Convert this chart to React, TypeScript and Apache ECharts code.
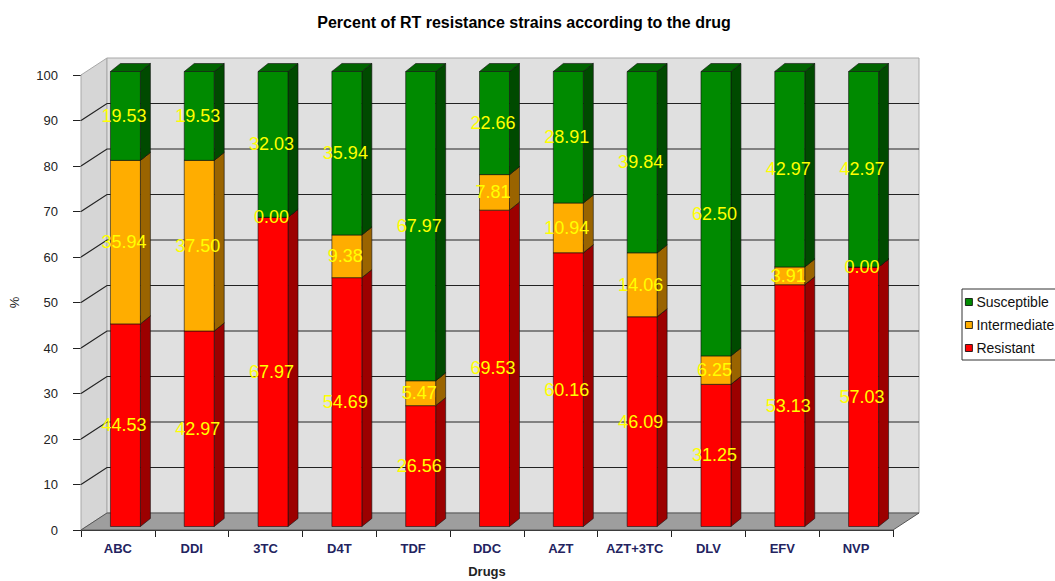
import React, { useEffect, useRef } from "react";
import * as echarts from "echarts";

const categories = ["ABC", "DDI", "3TC", "D4T", "TDF", "DDC", "AZT", "AZT+3TC", "DLV", "EFV", "NVP"];
const resistant = [44.53, 42.97, 67.97, 54.69, 26.56, 69.53, 60.16, 46.09, 31.25, 53.13, 57.03];
const intermediate = [35.94, 37.5, 0.0, 9.38, 5.47, 7.81, 10.94, 14.06, 6.25, 3.91, 0.0];
const susceptible = [19.53, 19.53, 32.03, 35.94, 67.97, 22.66, 28.91, 39.84, 62.5, 42.97, 42.97];
const yTicks = [0, 10, 20, 30, 40, 50, 60, 70, 80, 90, 100];

const DX = 26;
const DY = -17;
const F1X = 7.5;
const F1Y = -3.5;
const SX = 10;
const SY = -8;
const BAR_FRAC = 0.406;

type Seg = { name: string; values: number[]; front: string; side: string; top: string };

const segs: Seg[] = [
  { name: "Resistant", values: resistant, front: "#ff0000", side: "#9c0000", top: "#c80000" },
  { name: "Intermediate", values: intermediate, front: "#ffad00", side: "#9a6400", top: "#d08a00" },
  { name: "Susceptible", values: susceptible, front: "#008a00", side: "#004a00", top: "#006400" },
];

function bases(idx: number): number[] {
  return categories.map((_, i) => {
    let b = 0;
    for (let k = 0; k < idx; k++) b += segs[k].values[i];
    return b;
  });
}

export default function App() {
  const ref = useRef<HTMLDivElement>(null);
  useEffect(() => {
    if (!ref.current) return;
    const chart = echarts.init(ref.current, undefined, { renderer: "svg" });

    const wallSeries: any = {
      type: "custom",
      name: "walls",
      z: 1,
      silent: true,
      data: [[0]],
      renderItem: (params: any, api: any) => {
        const band = api.size([1, 0])[0];
        const c0 = api.coord([0, 0]);
        const cN = api.coord([categories.length - 1, 0]);
        const left = c0[0] - band / 2;
        const right = cN[0] + band / 2;
        const yb = c0[1];
        const yt = api.coord([0, 100])[1];
        const children: any[] = [
          {
            type: "polygon",
            shape: { points: [[left, yb], [left, yt], [left + DX, yt + DY], [left + DX, yb + DY]] },
            style: { fill: "#d6d6d6", stroke: "#a8a8a8", lineWidth: 1 },
          },
          {
            type: "rect",
            shape: { x: left + DX, y: yt + DY, width: right - left, height: yb - yt },
            style: { fill: "#e0e0e0", stroke: "#a8a8a8", lineWidth: 1 },
          },
          {
            type: "polygon",
            shape: { points: [[left, yb], [right, yb], [right + DX, yb + DY], [left + DX, yb + DY]] },
            style: { fill: "#9e9e9e", stroke: "#555", lineWidth: 1 },
          },
        ];
        yTicks.forEach((t) => {
          if (t === 0 || t === 100) return;
          const y = api.coord([0, t])[1];
          children.push({
            type: "polyline",
            shape: { points: [[left, y], [left + DX, y + DY], [right + DX, y + DY]] },
            style: { stroke: "#222", lineWidth: 1.2, fill: null },
          });
        });
        return { type: "group", children };
      },
    };

    const barSeries: any[] = segs.map((s, si) => {
      const b = bases(si);
      return {
        type: "custom",
        name: s.name,
        z: 2,
        itemStyle: { color: s.front, borderColor: "#000", borderWidth: 1 },
        data: categories.map((_, i) => [i, b[i], s.values[i]]),
        renderItem: (params: any, api: any) => {
          const x = api.value(0);
          const base = api.value(1);
          const v = api.value(2);
          const band = api.size([1, 0])[0];
          const w = band * BAR_FRAC;
          const p0 = api.coord([x, base]);
          const p1 = api.coord([x, base + v]);
          const fx = p0[0] - w / 2 + F1X;
          const y0 = p0[1] + F1Y;
          const y1 = p1[1] + F1Y;
          const ls = { stroke: "#111", lineWidth: 0.6 };
          return {
            type: "group",
            children: [
              {
                type: "polygon",
                shape: { points: [[fx + w, y1], [fx + w + SX, y1 + SY], [fx + w + SX, y0 + SY], [fx + w, y0]] },
                style: { fill: s.side, ...ls },
              },
              {
                type: "polygon",
                shape: { points: [[fx, y1], [fx + SX, y1 + SY], [fx + w + SX, y1 + SY], [fx + w, y1]] },
                style: { fill: s.top, ...ls },
              },
              {
                type: "rect",
                shape: { x: fx, y: y1, width: w, height: y0 - y1 },
                style: { fill: s.front, ...ls },
              },
            ],
          };
        },
      };
    });

    const labelData: number[][] = [];
    segs.forEach((s, si) => {
      const b = bases(si);
      categories.forEach((_, i) => labelData.push([i, b[i] + s.values[i] / 2, s.values[i]]));
    });

    const labelSeries: any = {
      type: "custom",
      name: "labels",
      z: 5,
      silent: true,
      data: labelData,
      renderItem: (params: any, api: any) => {
        const p = api.coord([api.value(0), api.value(1)]);
        return {
          type: "text",
          x: p[0] + F1X - 1.5,
          y: p[1] + F1Y,
          style: {
            text: Number(api.value(2)).toFixed(2),
            fill: "#ffff00",
            font: "18px Arial",
            align: "center",
            verticalAlign: "middle",
          },
        };
      },
    };

    chart.setOption({
      animation: false,
      backgroundColor: "#ffffff",
      title: {
        text: "Percent of RT resistance strains according to the drug",
        left: 519,
        textAlign: "center",
        top: 9,
        textStyle: { fontFamily: "Arial", fontWeight: "bold", fontSize: 16, color: "#000" },
      },
      legend: {
        data: ["Susceptible", "Intermediate", "Resistant"],
        orient: "vertical",
        left: 962,
        top: 289,
        padding: [5, 6, 4, 3],
        itemWidth: 7,
        itemHeight: 7,
        itemGap: 7,
        icon: "rect",
        borderColor: "#333",
        borderWidth: 1,
        selectedMode: false,
        itemStyle: { borderColor: "#000", borderWidth: 0.8 },
        textStyle: { fontFamily: "Arial", fontSize: 14, color: "#111", lineHeight: 16, padding: [0, 0, 0, -1] },
      },
      grid: { left: 81, right: 162, top: 75, bottom: 51, containLabel: false, outerBoundsMode: "none" },
      xAxis: {
        type: "category",
        data: categories,
        name: "Drugs",
        nameLocation: "middle",
        nameGap: 35,
        nameTextStyle: { fontFamily: "Arial", fontWeight: "bold", fontSize: 13, color: "#222" },
        axisLine: { show: true, lineStyle: { color: "#222", width: 1 } },
        axisTick: { show: true, length: 7, interval: 0, lineStyle: { color: "#222" } },
        axisLabel: {
          fontFamily: "Arial",
          fontWeight: "bold",
          fontSize: 13,
          color: "#23235f",
          margin: 12,
          interval: 0,
          hideOverlap: false,
        },
        splitLine: { show: false },
      },
      yAxis: {
        type: "value",
        min: 0,
        max: 100,
        interval: 10,
        name: "%",
        nameLocation: "middle",
        nameGap: 60,
        nameRotate: 90,
        nameTextStyle: { fontFamily: "Arial", fontSize: 13, color: "#222" },
        axisLine: { show: true, lineStyle: { color: "#222", width: 1 } },
        axisTick: { show: true, length: 8, lineStyle: { color: "#222" } },
        axisLabel: { fontFamily: "Arial", fontSize: 13, color: "#222", margin: 23 },
        splitLine: { show: false },
      },
      series: [wallSeries, ...barSeries, labelSeries],
    });
    return () => chart.dispose();
  }, []);
  return (
    <div
      ref={ref}
      style={{ position: "fixed", left: 0, top: 0, width: 1055, height: 581 }}
    />
  );
}
